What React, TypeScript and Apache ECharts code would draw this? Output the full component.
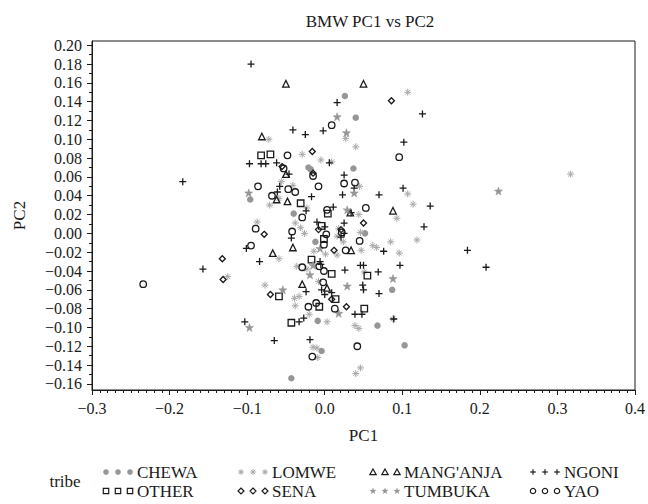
import React, { useEffect, useRef } from "react";
import * as echarts from "echarts";

const FONT = "'Liberation Serif', 'DejaVu Serif', serif";

const Y_MAJOR = [-0.16, -0.14, -0.12, -0.1, -0.08, -0.06, -0.04, -0.02, 0, 0.02, 0.04, 0.06, 0.08, 0.1, 0.12, 0.14, 0.16, 0.18, 0.2];
const Y_MINOR = [-0.15, -0.13, -0.11, -0.09, -0.07, -0.05, -0.03, -0.01, 0.01, 0.03, 0.05, 0.07, 0.09, 0.11, 0.13, 0.15, 0.17, 0.19];

const CHEWA: number[][] = [[-0.096,0.036],[0.026,0.146],[0.040,0.123],[-0.021,0.070],[-0.018,0.068],[0.037,0.069],[-0.040,0.021],[-0.012,-0.009],[0.052,0.000],[0.087,-0.060],[-0.009,-0.093],[0.068,-0.098],[-0.004,-0.125],[0.103,-0.119],[-0.043,-0.154]];
const LOMWE: number[][] = [[-0.072,0.100],[-0.056,0.055],[-0.059,0.037],[-0.071,0.030],[-0.087,0.012],[-0.059,-0.027],[-0.125,-0.046],[-0.077,-0.055],[0.107,0.150],[0.027,0.101],[0.040,0.092],[-0.029,0.084],[-0.005,0.078],[0.009,0.076],[-0.041,0.051],[0.045,0.050],[0.107,0.042],[0.114,0.031],[-0.023,0.027],[0.044,0.020],[0.093,0.016],[-0.038,0.011],[-0.031,0.006],[-0.026,0.000],[0.018,0.005],[0.016,-0.003],[0.024,-0.009],[0.046,0.001],[-0.014,-0.019],[0.001,-0.022],[0.016,-0.023],[0.047,-0.018],[0.062,-0.013],[0.067,-0.015],[0.085,-0.009],[0.096,-0.021],[0.119,-0.007],[-0.036,-0.035],[-0.023,-0.038],[0.051,-0.041],[-0.008,-0.051],[-0.039,-0.069],[-0.033,-0.067],[-0.038,-0.077],[-0.020,-0.086],[0.003,-0.094],[0.088,-0.091],[0.039,-0.098],[0.044,-0.101],[-0.015,-0.121],[-0.010,-0.122],[-0.009,-0.132],[0.046,-0.143],[0.040,-0.149],[0.317,0.063]];
const MANGANJA: number[][] = [[-0.050,0.159],[0.050,0.159],[-0.081,0.103],[-0.050,0.063],[-0.062,0.036],[-0.048,0.034],[0.033,0.022],[0.088,0.024],[-0.067,-0.021],[-0.041,-0.015],[0.034,-0.018],[-0.029,-0.054],[0.003,-0.058]];
const NGONI: number[][] = [[-0.095,0.180],[-0.097,0.074],[-0.082,0.074],[-0.076,0.074],[-0.062,0.075],[-0.183,0.055],[-0.058,0.050],[-0.061,0.044],[-0.101,-0.016],[-0.084,-0.030],[-0.157,-0.038],[-0.103,-0.094],[-0.065,-0.114],[0.016,0.139],[0.126,0.127],[-0.041,0.110],[-0.025,0.105],[-0.002,0.109],[0.102,0.097],[0.006,0.075],[-0.046,0.063],[0.025,0.062],[0.038,0.048],[-0.017,0.039],[0.023,0.041],[0.070,0.041],[0.101,0.048],[0.136,0.029],[-0.024,0.024],[0.011,0.028],[0.034,0.022],[-0.010,0.012],[0.000,0.007],[0.025,0.011],[0.025,0.000],[0.021,-0.004],[0.128,0.007],[-0.043,-0.005],[0.076,-0.019],[0.184,-0.018],[-0.006,-0.030],[-0.005,-0.033],[0.026,-0.039],[0.046,-0.034],[0.050,-0.034],[0.069,-0.041],[0.097,-0.034],[-0.024,-0.062],[-0.004,-0.060],[0.000,-0.065],[0.009,-0.063],[0.049,-0.055],[0.050,-0.060],[0.070,-0.064],[0.039,-0.086],[0.048,-0.086],[-0.033,-0.094],[-0.027,-0.090],[0.089,-0.091],[-0.019,-0.113],[0.208,-0.036]];
const OTHER: number[][] = [[-0.082,0.083],[-0.070,0.084],[-0.059,-0.067],[-0.031,0.032],[0.004,0.021],[-0.004,0.008],[-0.001,-0.006],[-0.017,-0.028],[0.009,-0.043],[0.055,-0.045],[0.014,-0.070],[-0.007,-0.078],[0.051,-0.080],[-0.043,-0.095]];
const SENA: number[][] = [[-0.055,0.071],[-0.078,-0.001],[-0.132,-0.027],[-0.131,-0.049],[-0.070,-0.065],[0.086,0.141],[-0.016,0.087],[-0.015,0.064],[-0.008,0.004],[0.050,0.011],[0.021,0.004],[0.012,-0.018],[0.009,-0.070],[0.028,-0.078]];
const TUMBUKA: number[][] = [[-0.098,0.043],[-0.054,-0.060],[-0.097,-0.100],[0.016,0.124],[0.028,0.107],[0.038,0.043],[0.029,0.025],[-0.006,-0.016],[-0.015,-0.034],[-0.019,-0.044],[0.088,-0.048],[0.029,-0.056],[0.018,-0.085],[0.224,0.045]];
const YAO: number[][] = [[-0.048,0.083],[-0.053,0.069],[-0.086,0.050],[-0.068,0.040],[-0.047,0.047],[-0.089,0.005],[-0.095,-0.013],[-0.234,-0.054],[0.009,0.115],[0.096,0.081],[-0.015,0.061],[-0.038,0.044],[-0.008,0.050],[0.025,0.053],[0.039,0.054],[-0.029,0.017],[0.003,0.025],[0.053,0.027],[-0.042,0.002],[0.002,-0.001],[-0.001,-0.012],[0.022,0.001],[0.027,-0.018],[0.045,-0.008],[-0.029,-0.036],[-0.007,-0.035],[-0.001,-0.040],[-0.002,-0.052],[-0.021,-0.078],[-0.011,-0.074],[0.013,-0.080],[0.042,-0.120],[-0.016,-0.131]];

const BLACK = "#1a1a1a";
const GRAY = "#969696";
const LIGHT = "#a8a8a8";
const CLEAR = "rgba(0,0,0,0)";

const P_PLUS = "path://M5,0V10M0,5H10";
const P_AST = "path://M5,0V10M0,5H10M1.5,1.5L8.5,8.5M1.5,8.5L8.5,1.5";
const P_TRI = "path://M5,0L10,9L0,9Z";
const P_SQ = "path://M0,0H10V10H0Z";
const P_DIA = "path://M5,0L10,5L5,10L0,5Z";
const P_RING = "path://M10,5A5,5,0,1,1,0,5A5,5,0,1,1,10,5Z";
const P_STAR = "path://M5,0L6.2,3.6H10L7,5.9L8.1,9.5L5,7.3L1.9,9.5L3,5.9L0,3.6H3.8Z";

type Spec = { name: string; data: number[][]; symbol: string; size: number; fill: string; stroke: string; lw: number; kind: string };

const SPECS: Spec[] = [
  { name: "CHEWA", data: CHEWA, symbol: "circle", size: 6.5, fill: GRAY, stroke: GRAY, lw: 0, kind: "dot" },
  { name: "LOMWE", data: LOMWE, symbol: P_AST, size: 7, fill: CLEAR, stroke: LIGHT, lw: 1, kind: "ast" },
  { name: "MANG'ANJA", data: MANGANJA, symbol: P_TRI, size: 6.5, fill: CLEAR, stroke: BLACK, lw: 1.3, kind: "tri" },
  { name: "NGONI", data: NGONI, symbol: P_PLUS, size: 7, fill: CLEAR, stroke: BLACK, lw: 1.3, kind: "plus" },
  { name: "OTHER", data: OTHER, symbol: P_SQ, size: 6.5, fill: CLEAR, stroke: BLACK, lw: 1.3, kind: "sq" },
  { name: "SENA", data: SENA, symbol: P_DIA, size: 6, fill: CLEAR, stroke: BLACK, lw: 1.3, kind: "dia" },
  { name: "TUMBUKA", data: TUMBUKA, symbol: P_STAR, size: 8, fill: GRAY, stroke: GRAY, lw: 0.6, kind: "star" },
  { name: "YAO", data: YAO, symbol: P_RING, size: 6.5, fill: CLEAR, stroke: BLACK, lw: 1.3, kind: "ring" },
];

function mark(kind: string, cx: number, cy: number): any {
  const s = 2.8;
  const bl = { stroke: BLACK, lineWidth: 1.2, fill: "none" };
  switch (kind) {
    case "dot":
      return { type: "circle", shape: { cx, cy, r: 2.8 }, style: { fill: GRAY } };
    case "ast":
      return {
        type: "group",
        children: [
          [0, -s, 0, s], [-s, 0, s, 0], [-2, -2, 2, 2], [-2, 2, 2, -2],
        ].map((l) => ({ type: "line", shape: { x1: cx + l[0], y1: cy + l[1], x2: cx + l[2], y2: cy + l[3] }, style: { stroke: LIGHT, lineWidth: 1 } })),
      };
    case "tri":
      return { type: "polygon", shape: { points: [[cx, cy - 3], [cx + 3.2, cy + 2.6], [cx - 3.2, cy + 2.6]] }, style: bl };
    case "plus":
      return {
        type: "group",
        children: [[0, -s, 0, s], [-s, 0, s, 0]].map((l) => ({ type: "line", shape: { x1: cx + l[0], y1: cy + l[1], x2: cx + l[2], y2: cy + l[3] }, style: { stroke: BLACK, lineWidth: 1.2 } })),
      };
    case "sq":
      return { type: "rect", shape: { x: cx - 2.7, y: cy - 2.7, width: 5.4, height: 5.4 }, style: bl };
    case "dia":
      return { type: "polygon", shape: { points: [[cx, cy - 3], [cx + 3, cy], [cx, cy + 3], [cx - 3, cy]] }, style: bl };
    case "star": {
      const pts: number[][] = [];
      for (let i = 0; i < 10; i++) {
        const r = i % 2 === 0 ? 3.6 : 1.5;
        const a = -Math.PI / 2 + (i * Math.PI) / 5;
        pts.push([cx + r * Math.cos(a), cy + r * Math.sin(a)]);
      }
      return { type: "polygon", shape: { points: pts }, style: { fill: GRAY } };
    }
    default:
      return { type: "circle", shape: { cx, cy, r: 2.7 }, style: bl };
  }
}

const LEG_COLS = [106, 241, 373, 533];
const LEG_ROWS = [472, 491];

export default function App() {
  const ref = useRef<HTMLDivElement>(null);
  useEffect(() => {
    if (!ref.current) return;
    const chart = echarts.init(ref.current, null, { renderer: "svg" });
    const axisLine = { show: true, onZero: false, lineStyle: { color: BLACK, width: 1 } };
    const fmtY = (v: number) => (v < -1e-9 ? "\u2212" : "") + Math.abs(v).toFixed(2);
    const fmtX = (v: number) => (v < -1e-9 ? "\u2212" : "") + Math.abs(v).toFixed(1);
    const legendEls: any[] = [
      { type: "text", x: 65, y: (LEG_ROWS[0] + LEG_ROWS[1]) / 2, style: { text: "tribe", fontSize: 17, fontFamily: FONT, fill: BLACK, align: "center", verticalAlign: "middle" } },
    ];
    SPECS.forEach((sp, i) => {
      const col = LEG_COLS[i % 4];
      const row = LEG_ROWS[Math.floor(i / 4)];
      for (let k = 0; k < 3; k++) legendEls.push(mark(sp.kind, col + k * 12, row));
      legendEls.push({ type: "text", x: col + 31, y: row, style: { text: sp.name, fontSize: 17, fontFamily: FONT, fill: BLACK, align: "left", verticalAlign: "middle" } });
    });
    chart.setOption({
      animation: false,
      backgroundColor: "#fff",
      title: {
        text: "BMW PC1 vs PC2",
        left: 365,
        top: 8,
        textAlign: "center",
        textStyle: { fontFamily: FONT, fontSize: 17, fontWeight: "normal", color: BLACK },
      },
      grid: { left: 92, right: 9, top: 41, bottom: 114, show: true, borderColor: BLACK, borderWidth: 1, backgroundColor: "transparent" },
      xAxis: {
        type: "value",
        min: -0.3,
        max: 0.4,
        interval: 0.1,
        name: "PC1",
        nameLocation: "middle",
        nameGap: 37,
        nameTextStyle: { fontFamily: FONT, fontSize: 17, color: BLACK },
        axisLine,
        axisTick: { show: true, length: 5, lineStyle: { color: BLACK } },
        minorTick: { show: true, splitNumber: 10, length: 3, lineStyle: { color: BLACK } },
        axisLabel: { formatter: fmtX, fontFamily: FONT, fontSize: 16, color: BLACK, margin: 10 },
        splitLine: { show: false },
        minorSplitLine: { show: false },
      },
      yAxis: [
        {
          type: "value",
          min: -0.1665,
          max: 0.2045,
          position: "left",
          name: "PC2",
          nameLocation: "middle",
          nameGap: 64,
          nameTextStyle: { fontFamily: FONT, fontSize: 17, color: BLACK },
          axisLine,
          axisTick: { show: true, length: 5, customValues: Y_MAJOR, lineStyle: { color: BLACK } },
          axisLabel: { customValues: Y_MAJOR, formatter: fmtY, fontFamily: FONT, fontSize: 16, color: BLACK, margin: 10 },
          splitLine: { show: false },
        },
        {
          type: "value",
          min: -0.1665,
          max: 0.2045,
          position: "left",
          offset: 0,
          axisLine: { show: false, onZero: false },
          axisTick: { show: true, length: 3, customValues: Y_MINOR, lineStyle: { color: BLACK } },
          axisLabel: { show: false },
          splitLine: { show: false },
        },
      ],
      series: SPECS.map((sp) => ({
        name: sp.name,
        type: "scatter",
        data: sp.data,
        yAxisIndex: 0,
        symbol: sp.symbol,
        symbolSize: sp.size,
        silent: true,
        itemStyle: { color: sp.fill, borderColor: sp.stroke, borderWidth: sp.lw, opacity: 1 },
        emphasis: { disabled: true },
      })),
      graphic: legendEls,
    });
    return () => chart.dispose();
  }, []);
  return <div ref={ref} style={{ position: "fixed", left: 0, top: 0, width: 648, height: 504 }} />;
}
